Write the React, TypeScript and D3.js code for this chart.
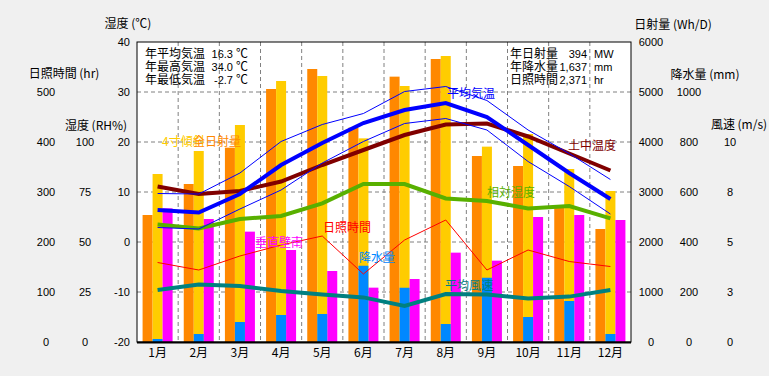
import React from "react";
import * as d3 from "d3";

const months = ["1月", "2月", "3月", "4月", "5月", "6月", "7月", "8月", "9月", "10月", "11月", "12月"];
// 気温 (℃)
const avgTemp = [6.4, 5.9, 9.6, 15.4, 19.8, 23.8, 26.4, 27.8, 25.0, 19.4, 13.8, 8.6];
const maxTemp = [9.7, 9.6, 13.8, 20.1, 23.5, 25.7, 30.1, 31.1, 28.3, 22.4, 17.7, 12.5];
const minTemp = [2.9, 2.6, 6.6, 10.4, 15.8, 20.1, 23.7, 24.7, 22.4, 16.1, 11.1, 5.6];
const soilTemp = [11.1, 9.6, 10.2, 12.1, 15.4, 18.4, 21.4, 23.5, 23.7, 21.1, 17.7, 14.3];
// 相対湿度 (RH%)
const humidity = [58.8, 56.8, 61.5, 63, 69.3, 79, 79, 71.8, 70.5, 66.8, 68, 61.8];
// 日照時間 (hr)
const sunshine = [159, 144, 172, 194, 212, 136, 204, 244, 144, 184, 161, 151];
// 平均風速 (m/s)
const wind = [2.6, 2.88, 2.8, 2.55, 2.38, 2.23, 1.8, 2.4, 2.37, 2.18, 2.27, 2.6];
// 日射量 (Wh/D)
const globalRad = [2540, 3160, 3887, 5060, 5460, 4287, 5307, 5660, 3720, 3520, 2740, 2260];
const tiltRad = [3360, 3820, 4340, 5220, 5320, 4073, 5120, 5720, 3907, 4160, 3460, 3020];
const southWall = [2673, 2460, 2207, 1840, 1420, 1087, 1260, 1787, 1627, 2500, 2540, 2440];
// 降水量 (mm)
const precip = [12, 32, 80, 108, 112, 305, 217, 72, 257, 100, 164, 32];

const tempTicks = [-20, -10, 0, 10, 20, 30, 40];
const sunTicks = [0, 100, 200, 300, 400, 500];
const rhTicks = [0, 25, 50, 75, 100];
const radTicks = [0, 1000, 2000, 3000, 4000, 5000, 6000];
const precTicks = [0, 200, 400, 600, 800, 1000];
const windTicks = [0, 2.5, 5, 7.5, 10];

const leftStats = [
  ["年平均気温", "16.3", "℃"],
  ["年最高気温", "34.0", "℃"],
  ["年最低気温", "-2.7", "℃"],
];
const rightStats = [
  ["年日射量", "394", "MW"],
  ["年降水量", "1,637", "mm"],
  ["日照時間", "2,371", "hr"],
];

const W = 769, H = 376;
const L = 137, R = 631, T = 42, B = 342;
const FONT = "'Noto Sans CJK JP', 'Noto Sans', sans-serif";
const NUMFONT = "'Liberation Sans', 'DejaVu Sans', sans-serif";

export default function App() {
  const x = d3.scaleBand<string>().domain(months).range([L, R]).padding(0);
  const bw = x.bandwidth();
  const cx = (i: number) => (x(months[i]) as number) + bw / 2;
  const yT = d3.scaleLinear().domain([-20, 40]).range([B, T]);
  const ySun = d3.scaleLinear().domain([0, 600]).range([B, T]);
  const yRH = d3.scaleLinear().domain([0, 150]).range([B, T]);
  const yRad = d3.scaleLinear().domain([0, 6000]).range([B, T]);
  const yPrec = d3.scaleLinear().domain([0, 1200]).range([B, T]);
  const yWind = d3.scaleLinear().domain([0, 15]).range([B, T]);

  const mk = (data: number[], sc: d3.ScaleLinear<number, number>) =>
    d3.line<number>().x((_, i) => cx(i)).y((d) => sc(d))(data) as string;

  const barW = 10;
  const bars = (data: number[], sc: d3.ScaleLinear<number, number>, off: number, color: string, key: string) =>
    data.map((d, i) => (
      <rect key={key + i} x={cx(i) + off} y={sc(d)} width={barW} height={B - sc(d)} fill={color} />
    ));

  const gridY = [-10, 0, 10, 20, 30];
  const gridX = months.slice(1).map((m) => x(m) as number);

  const txt = { fontFamily: FONT, fontSize: 12 } as const;
  const num = { fontFamily: NUMFONT, fontSize: 11 } as const;

  return (
    <svg width={W} height={H} style={{ position: "absolute", left: 0, top: 0 }}>
      <rect x={0} y={0} width={W} height={H} fill="#f0f0f0" />
      <rect x={L} y={T} width={R - L} height={B - T} fill="#ffffff" />
      {gridY.map((g) => (
        <line key={"gy" + g} x1={L} x2={R} y1={yT(g)} y2={yT(g)} stroke="#808080" strokeDasharray="4,3" />
      ))}
      {gridX.map((g, i) => (
        <line key={"gx" + i} x1={g} x2={g} y1={T} y2={B} stroke="#808080" strokeDasharray="4,3" />
      ))}
      {bars(globalRad, yRad, -15, "#ff8800", "g")}
      {bars(tiltRad, yRad, -5, "#ffcc00", "t")}
      {bars(southWall, yRad, 5, "#ff00ff", "s")}
      {bars(precip, yPrec, -5, "#0088ff", "p")}

      <path d={mk(sunshine, ySun)} fill="none" stroke="#ff0000" strokeWidth={1} />
      <path d={mk(wind, yWind)} fill="none" stroke="#008080" strokeWidth={4} />
      <path d={mk(humidity, yRH)} fill="none" stroke="#58b000" strokeWidth={4} />
      <path d={mk(soilTemp, yT)} fill="none" stroke="#800000" strokeWidth={4} />
      <path d={mk(maxTemp, yT)} fill="none" stroke="#0000ff" strokeWidth={1} />
      <path d={mk(minTemp, yT)} fill="none" stroke="#0000ff" strokeWidth={1} />
      <path d={mk(avgTemp, yT)} fill="none" stroke="#0000ff" strokeWidth={4} />

      <rect x={L} y={T} width={R - L} height={B - T} fill="none" stroke="#000" strokeWidth={1} />
      <line x1={L} x2={R} y1={B + 0.5} y2={B + 0.5} stroke="#000" strokeWidth={2} />

      {/* series labels */}
      <text {...txt} x={162} y={146}>
        <tspan fill="#ffcc00">4寸傾斜</tspan>
        <tspan x={193} fill="#ff8800">全日射量</tspan>
      </text>
      <text {...txt} x={447} y={98} fill="#0000ff">平均気温</text>
      <text {...txt} x={568} y={150} fill="#800000">土中温度</text>
      <text {...txt} x={487} y={197} fill="#58b000">相対湿度</text>
      <text {...txt} x={323} y={232} fill="#ff0000">日照時間</text>
      <text {...txt} x={255} y={247} fill="#ff00ff">垂直壁南</text>
      <text {...txt} x={359} y={262} fill="#0088ff">降水量</text>
      <text {...txt} x={445} y={290} fill="#008080">平均風速</text>

      {/* stats */}
      {leftStats.map((s, i) => (
        <text key={"ls" + i} {...txt} x={145} y={58 + i * 13}>
          <tspan>{s[0]}</tspan>
          <tspan x={233} textAnchor="end" fontFamily={NUMFONT} fontSize={11}>{s[1]}</tspan>
          <tspan x={236}>{s[2]}</tspan>
        </text>
      ))}
      {rightStats.map((s, i) => (
        <text key={"rs" + i} {...txt} x={510} y={58 + i * 13}>
          <tspan>{s[0]}</tspan>
          <tspan x={587} textAnchor="end" fontFamily={NUMFONT} fontSize={11}>{s[1]}</tspan>
          <tspan x={594} fontFamily={NUMFONT} fontSize={11}>{s[2]}</tspan>
        </text>
      ))}

      {/* month labels */}
      {months.map((m, i) => (
        <text key={"m" + i} {...txt} x={cx(i)} y={357} textAnchor="middle">{m}</text>
      ))}

      {/* axis titles */}
      <text {...txt} x={128} y={28} textAnchor="middle">湿度 (℃)</text>
      <text {...txt} x={64} y={78} textAnchor="middle">日照時間 (hr)</text>
      <text {...txt} x={96} y={130} textAnchor="middle">湿度 (RH%)</text>
      <text {...txt} x={673} y={29} textAnchor="middle">日射量 (Wh/D)</text>
      <text {...txt} x={705} y={79} textAnchor="middle">降水量 (mm)</text>
      <text {...txt} x={739} y={129} textAnchor="middle">風速 (m/s)</text>

      {/* ticks */}
      {tempTicks.map((t) => (
        <text key={"tt" + t} {...num} x={130} y={yT(t) + 4} textAnchor="end">{t}</text>
      ))}
      {sunTicks.map((t) => (
        <text key={"st" + t} {...num} x={46} y={ySun(t) + 4} textAnchor="middle">{t}</text>
      ))}
      {rhTicks.map((t) => (
        <text key={"rt" + t} {...num} x={85} y={yRH(t) + 4} textAnchor="middle">{t}</text>
      ))}
      {radTicks.map((t) => (
        <text key={"ra" + t} {...num} x={651} y={yRad(t) + 4} textAnchor="middle">{t}</text>
      ))}
      {precTicks.map((t) => (
        <text key={"pt" + t} {...num} x={689} y={yPrec(t) + 4} textAnchor="middle">{t}</text>
      ))}
      {windTicks.map((t) => (
        <text key={"wt" + t} {...num} x={730} y={yWind(t) + 4} textAnchor="middle">{Math.round(t)}</text>
      ))}
    </svg>
  );
}
